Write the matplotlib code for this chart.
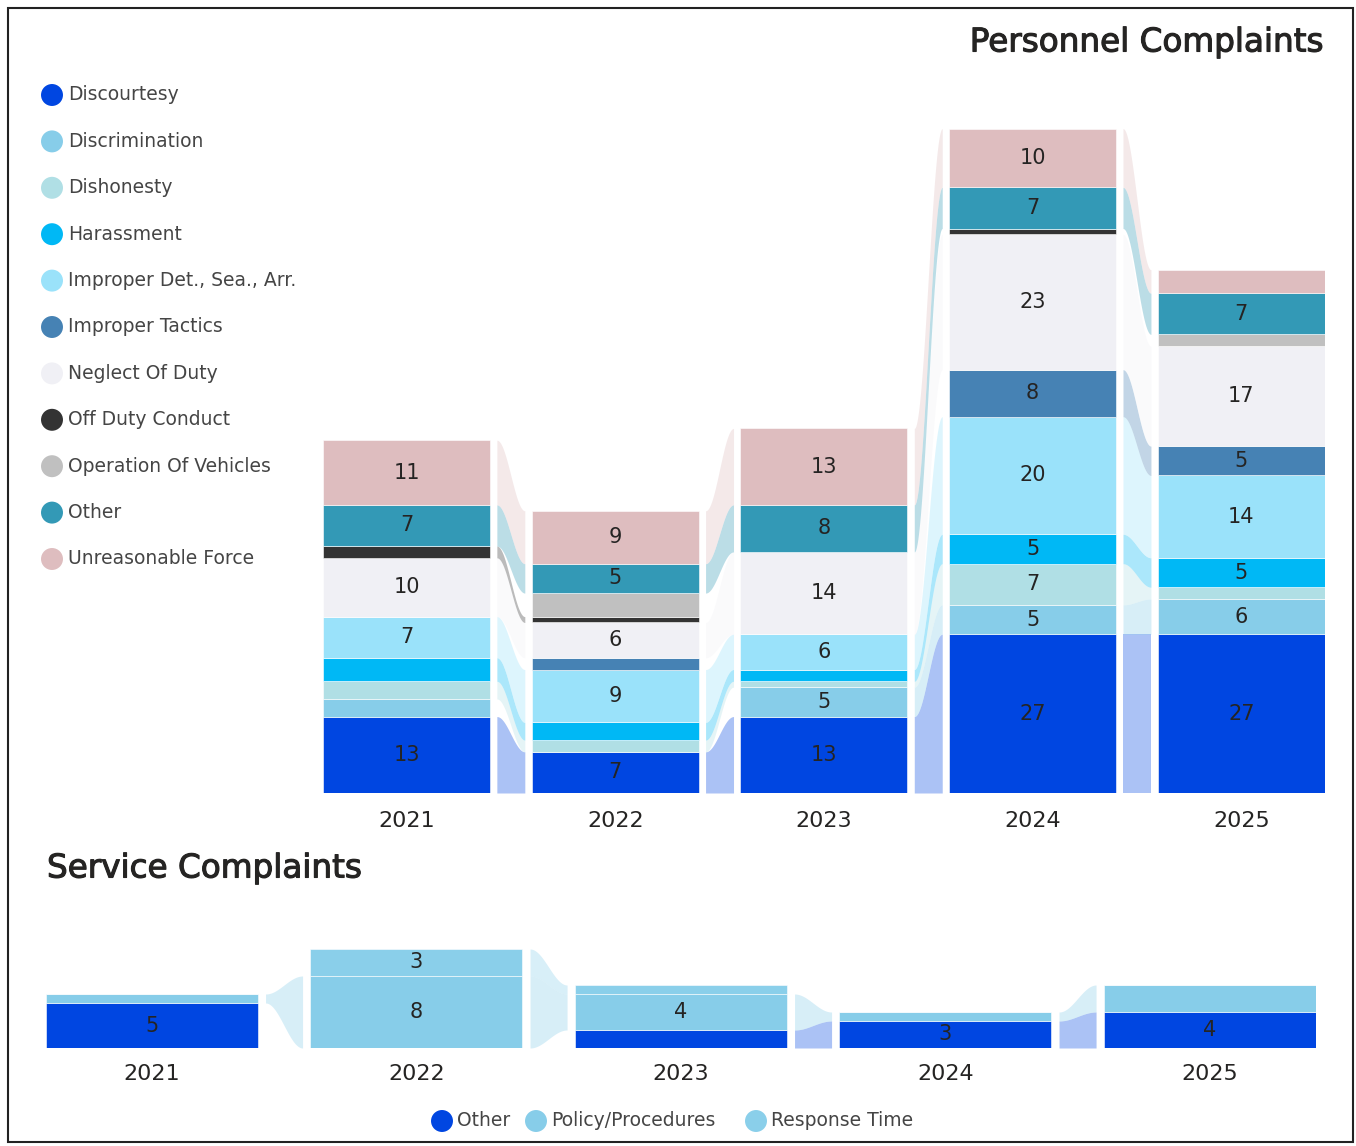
import matplotlib
matplotlib.use('Agg')
import matplotlib.pyplot as plt
import matplotlib.patheffects as pe
import numpy as np
from matplotlib.patches import Rectangle

plt.rcParams['font.family'] = ['DejaVu Sans']

# ---------------- data ----------------
years = ['2021', '2022', '2023', '2024', '2025']

personnel_categories = ['Discourtesy', 'Discrimination', 'Dishonesty', 'Harassment',
                        'Improper Det., Sea., Arr.', 'Improper Tactics', 'Neglect Of Duty',
                        'Off Duty Conduct', 'Operation Of Vehicles', 'Other', 'Unreasonable Force']
discourtesy = [13, 7, 13, 27, 27]
discrimination = [3, 0, 5, 5, 6]
dishonesty = [3, 2, 1, 7, 2]
harassment = [4, 3, 2, 5, 5]
improper_det = [7, 9, 6, 20, 14]
improper_tactics = [0, 2, 0, 8, 5]
neglect_of_duty = [10, 6, 14, 23, 17]
off_duty_conduct = [2, 1, 0, 1, 0]
operation_of_vehicles = [0, 4, 0, 0, 2]
other_personnel = [7, 5, 8, 7, 7]
unreasonable_force = [11, 9, 13, 10, 4]

service_categories = ['Other', 'Policy/Procedures', 'Response Time']
service_other = [5, 0, 2, 3, 4]
service_policy = [1, 8, 4, 1, 3]
service_response = [0, 3, 1, 0, 0]

personnel_colors = ['#0046E1', '#87CDE9', '#B0DFE5', '#00B8F5', '#9AE2FA', '#4682B4',
                    '#F0F0F5', '#333333', '#C0C0C0', '#3399B6', '#DEBDBF']
service_colors = ['#0046E1', '#87CDE9', '#8ACFEA']

W, H = 1356, 1146
fig = plt.figure(figsize=(W / 100, H / 100), dpi=100)
fig.patch.set_facecolor('white')

TXT = '#252423'
LEG = '#454545'


def px_axes(left, top, right, bottom, **kw):
    return fig.add_axes([left / W, 1 - bottom / H, (right - left) / W, (bottom - top) / H], **kw)


def ribbon_chart(ax, series, colors, bw, pad):
    n = len(series[0])
    vals = np.array(series, dtype=float)
    cum = np.vstack([np.zeros(n), np.cumsum(vals, axis=0)])
    xs = np.arange(n)
    for k in range(len(series)):
        ax.bar(xs, vals[k], bottom=cum[k], width=bw, color=colors[k],
               edgecolor='white', linewidth=0.4, zorder=3)
    t = np.linspace(0, 1, 80)
    s = (1 - np.cos(np.pi * t)) / 2
    for i in range(n - 1):
        x0 = i + bw / 2 + pad
        x1 = i + 1 - bw / 2 - pad
        xx = x0 + (x1 - x0) * t
        for k in range(len(series)):
            if vals[k, i] == 0 or vals[k, i + 1] == 0:
                continue
            lo = cum[k, i] + (cum[k, i + 1] - cum[k, i]) * s
            hi = cum[k + 1, i] + (cum[k + 1, i + 1] - cum[k + 1, i]) * s
            ax.fill_between(xx, lo, hi, color=colors[k], alpha=0.33, lw=0, zorder=2)
    return vals, cum


def style_axis(ax, ymax, pad):
    ax.set_xlim(-0.4, 4.4)
    ax.set_ylim(0, ymax)
    ax.set_xticks(range(len(years)))
    ax.set_xticklabels(years, fontsize=16, color=TXT)
    ax.tick_params(axis='x', length=0, pad=pad)
    ax.set_yticks([])
    for sp in ax.spines.values():
        sp.set_visible(False)
    ax.patch.set_alpha(0)


# ---------------- Personnel Complaints ----------------
pers = [discourtesy, discrimination, dishonesty, harassment, improper_det, improper_tactics,
        neglect_of_duty, off_duty_conduct, operation_of_vehicles, other_personnel, unreasonable_force]
ymax_p = 116
scale_p = 5.88
axp = px_axes(323, 793 - ymax_p * scale_p, 1324.8, 793)
vals, cum = ribbon_chart(axp, pers, personnel_colors, 0.8, 0.033)
for k in range(len(pers)):
    for i in range(len(years)):
        v = vals[k, i]
        if v >= 5:
            axp.text(i, (cum[k, i] + cum[k + 1, i]) / 2, f'{int(v)}', ha='center', va='center',
                     fontsize=15, color=TXT, zorder=5)
style_axis(axp, ymax_p, 13)

# ---------------- Service Complaints ----------------
serv = [service_other, service_policy, service_response]
ymax_s = 12
scale_s = 9.0
axs = px_axes(46, 1048 - ymax_s * scale_s, 1315.6, 1048)
svals, scum = ribbon_chart(axs, serv, service_colors, 0.8, 0.03)
hidden = {(1, 4)}
for k in range(len(serv)):
    for i in range(len(years)):
        v = svals[k, i]
        if v >= 3 and (k, i) not in hidden:
            axs.text(i, (scum[k, i] + scum[k + 1, i]) / 2, f'{int(v)}', ha='center', va='center',
                     fontsize=15, color=TXT, zorder=5)
style_axis(axs, ymax_s, 11.5)

# ---------------- overlay (titles, legends, frame) ----------------
ov = fig.add_axes([0, 0, 1, 1], zorder=-1)
ov.set_xlim(0, W)
ov.set_ylim(H, 0)
ov.axis('off')

title_fx = [pe.withStroke(linewidth=0.8, foreground=TXT)]
ov.text(1323, 42, 'Personnel Complaints', ha='right', va='center', fontsize=23.5,
        color=TXT, path_effects=title_fx)
ov.text(47, 868, 'Service Complaints', ha='left', va='center', fontsize=23.5,
        color=TXT, path_effects=title_fx)

for i, (name, c) in enumerate(zip(personnel_categories, personnel_colors)):
    y = 95 + i * 46.4
    ov.scatter([52], [y], s=250, color=c, edgecolor='none')
    ov.text(68, y, name, ha='left', va='center', fontsize=13.5, color=LEG)

for xc, name, c in zip([442, 536, 756], service_categories, service_colors):
    ov.scatter([xc], [1121], s=250, color=c, edgecolor='none')
    ov.text(xc + 15, 1121, name, ha='left', va='center', fontsize=13.5, color=LEG)

ov.add_patch(Rectangle((8, 8), 1345, 1134, fill=False, lw=1.5, ec='#222222'))

fig.savefig('out.png', dpi=100, facecolor='white')
